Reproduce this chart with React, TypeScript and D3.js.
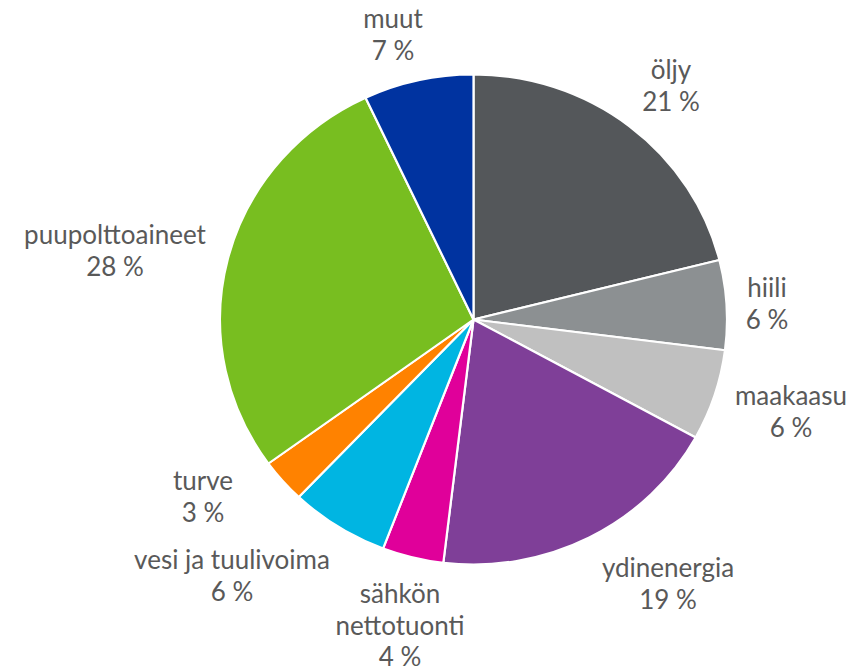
import React, { useEffect } from 'react';
import * as d3 from 'd3';

// energy sources, share of total consumption (%)
const categories = ['öljy', 'hiili', 'maakaasu', 'ydinenergia', 'sähkön nettotuonti', 'vesi ja tuulivoima', 'turve', 'puupolttoaineet', 'muut'];
const shares = [21.1, 5.9, 6.0, 18.9, 3.9, 6.3, 2.9, 28.0, 7.0];
const shareLabels = ['21 %', '6 %', '6 %', '19 %', '4 %', '6 %', '3 %', '28 %', '7 %'];
const colors = ['#54575a', '#8c9092', '#c0c0c0', '#7f3f98', '#e0009a', '#00b5e2', '#ff8200', '#78be20', '#0033a0'];

// label layout: text lines, centre x, first baseline
const labelLayout: { lines: string[]; x: number; y: number }[] = [
  { lines: ['öljy'], x: 671, y: 79 },
  { lines: ['hiili'], x: 767, y: 297 },
  { lines: ['maakaasu'], x: 791, y: 405 },
  { lines: ['ydinenergia'], x: 668, y: 577 },
  { lines: ['sähkön', 'nettotuonti'], x: 400, y: 603 },
  { lines: ['vesi ja tuulivoima'], x: 232, y: 569 },
  { lines: ['turve'], x: 203, y: 490 },
  { lines: ['puupolttoaineet'], x: 115, y: 244 },
  { lines: ['muut'], x: 393, y: 28 },
];

export default function App() {
  useEffect(() => {
    document.body.style.margin = '0';
  }, []);

  const width = 852, height = 671;
  const cx = 473.5, cy = 319.5, rx = 253.5, ry = 245;
  const lineH = 31.5;

  const data = categories.map((c, i) => ({ name: c, value: shares[i], color: colors[i], pct: shareLabels[i] }));
  const pie = d3.pie<any>().sort(null).value((d) => d.value).startAngle(0).endAngle(2 * Math.PI);
  const arc = d3.arc<any>().innerRadius(0).outerRadius(rx);
  const arcs = pie(data);

  return (
    <svg width={width} height={height} style={{ display: 'block', fontFamily: 'Lato, "Open Sans", sans-serif' }}>
      <g transform={`translate(${cx},${cy}) scale(1,${ry / rx})`}>
        {arcs.map((a, i) => (
          <path key={i} d={arc(a) || ''} fill={a.data.color} stroke="#fff" strokeWidth={2.2} strokeLinejoin="round" />
        ))}
      </g>
      {data.map((d, i) => {
        const lay = labelLayout[i];
        const lines = [...lay.lines, d.pct];
        return (
          <text key={i} textAnchor="middle" fill="#595959" fontSize={26}>
            {lines.map((t, j) => (
              <tspan key={j} x={lay.x} y={lay.y + j * lineH}>{t}</tspan>
            ))}
          </text>
        );
      })}
    </svg>
  );
}
